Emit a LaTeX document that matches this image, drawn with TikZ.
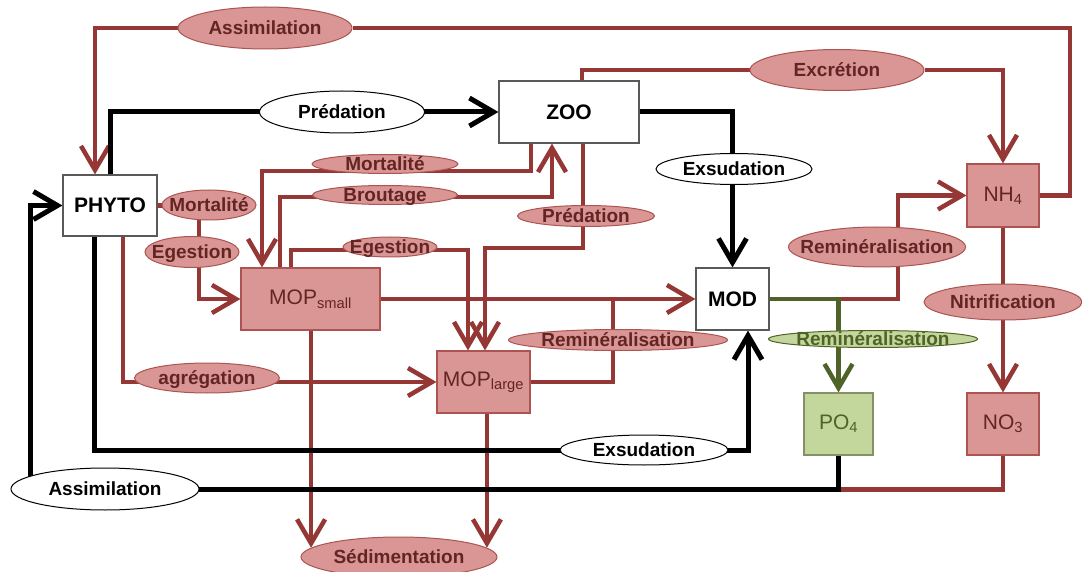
\documentclass[tikz,border=0pt]{standalone}
\usepackage{fontspec}
\setmainfont{Liberation Sans}
\usetikzlibrary{shapes.geometric,arrows.meta,backgrounds}

\definecolor{rouge}{RGB}{149,55,53}
\definecolor{rose}{RGB}{217,150,148}
\definecolor{bordrose}{RGB}{172,84,82}
\definecolor{texterouge}{RGB}{99,37,35}
\definecolor{vert}{RGB}{79,98,40}
\definecolor{vertclair}{RGB}{195,214,155}

\newcommand{\ctext}[1]{\makebox[0pt]{\raisebox{-.36em}[0pt][0pt]{#1}}}

\tikzset{
  boite/.style={rectangle, draw=black!65, line width=1.2pt, fill=white, inner sep=0pt,
    font=\bfseries\fontsize{21}{21}\selectfont},
  boiterose/.style={boite, draw=bordrose, fill=rose, text=texterouge,
    font=\fontsize{21}{21}\selectfont},
  boiteverte/.style={boite, draw=vert!70, fill=vertclair, text=vert,
    font=\fontsize{21}{21}\selectfont},
  etiq/.style={ellipse, inner sep=0pt, line width=1pt, font=\bfseries\fontsize{19}{19}\selectfont},
  etiqblanc/.style={etiq, draw=black, fill=white},
  etiqrose/.style={etiq, draw=bordrose, fill=rose, text=texterouge},
  etiqvert/.style={etiq, draw=vert, fill=vertclair, text=vert},
  fluxrouge/.style={draw=rouge, line width=4.5pt},
  fluxnoir/.style={draw=black, line width=5pt},
  fluxvert/.style={draw=vert, line width=4.5pt}
}

\begin{document}
\begin{tikzpicture}[x=1pt,y=-1pt,>={Straight Barb[length=24pt,width=28pt]}]

    \useasboundingbox (0,0) rectangle (1082,572);

    % Compartiments
    \node[boite, minimum width=94, minimum height=61] (phyto) at (110,205.5) {PHYTO};
    \node[boite, minimum width=140, minimum height=62] (zoo) at (569,112) {ZOO};
    \node[boite, minimum width=73, minimum height=62] (mod) at (732.5,299) {MOD};
    \node[boiterose, minimum width=72, minimum height=63] (nh4) at (1003,195.5) {NH\textsubscript{4}};
    \node[boiterose, minimum width=139, minimum height=62] (mopsmall) at (310.5,299) {MOP\textsubscript{small}};
    \node[boiterose, minimum width=93, minimum height=62] (moplarge) at (483.5,382) {MOP\textsubscript{large}};
    \node[boiteverte, minimum width=69, minimum height=62] (po4) at (838.5,424) {PO\textsubscript{4}};
    \node[boiterose, minimum width=72, minimum height=62] (no3) at (1003,424) {NO\textsubscript{3}};

    % Processus
    \node[etiqrose, minimum width=174, minimum height=42] (assimT) at (265,28) {\ctext{Assimilation}};
    \node[etiqblanc, minimum width=165, minimum height=42] (predW) at (342,112) {\ctext{Prédation}};
    \node[etiqrose, minimum width=174, minimum height=41] (excr) at (837,70) {\ctext{Excrétion}};
    \node[etiqblanc, minimum width=156, minimum height=31] (exsH) at (734,169) {\ctext{Exsudation}};
    \node[etiqrose, minimum width=146, minimum height=19] (mortZ) at (385,164) {\ctext{Mortalité}};
    \node[etiqrose, minimum width=145, minimum height=19] (brout) at (385,195) {\ctext{Broutage}};
    \node[etiqrose, minimum width=137, minimum height=21] (predR) at (586,216) {\ctext{Prédation}};
    \node[etiqrose, minimum width=94, minimum height=30] (mortP) at (209,205) {\ctext{Mortalité}};
    \node[etiqrose, minimum width=94, minimum height=31] (egesP) at (192,252) {\ctext{Egestion}};
    \node[etiqrose, minimum width=94, minimum height=20] (egesZ) at (390,247) {\ctext{Egestion}};
    \node[etiqrose, minimum width=219, minimum height=21] (remiL) at (618,340) {\ctext{Reminéralisation}};
    \node[etiqrose, minimum width=177, minimum height=40] (remiN) at (877,247) {\ctext{Reminéralisation}};
    \node[etiqrose, minimum width=158, minimum height=36] (nitri) at (1003,302) {\ctext{Nitrification}};
    \node[etiqvert, minimum width=209, minimum height=17] (remiP) at (873,339) {\ctext{Reminéralisation}};
    \node[etiqrose, minimum width=145, minimum height=30] (agreg) at (207,378) {\ctext{agrégation}};
    \node[etiqblanc, minimum width=168, minimum height=30] (exsB) at (644,450) {\ctext{Exsudation}};
    \node[etiqblanc, minimum width=188, minimum height=42] (assimB) at (105,489) {\ctext{Assimilation}};
    \node[etiqrose, minimum width=196, minimum height=40] (sedim) at (399,557) {\ctext{Sédimentation}};

    \begin{scope}[on background layer]
    % Flux rouges
    \draw[fluxrouge] (nh4.east) -| (1070,28) -- (assimT);
    \draw[fluxrouge,->] (assimT) -| ([xshift=-15]phyto.north);
    \draw[fluxrouge] ([xshift=13]zoo.north) |- (excr);
    \draw[fluxrouge,->] (excr) -| (nh4.north);
    \draw[fluxrouge,->] ([xshift=-38]zoo.south) |- (262,171) -- ([xshift=-48.5]mopsmall.north);
    \draw[fluxrouge,->] ([xshift=-30.5]mopsmall.north) |- (552,197) -- ([xshift=-17]zoo.south);
    \draw[fluxrouge,->] ([xshift=14]zoo.south) |- (485,248) -- ([xshift=1.5]moplarge.north);
    \draw[fluxrouge,->] ([xshift=-19.5]mopsmall.north) |- (468,250) -- ([xshift=-15.5]moplarge.north);
    \draw[fluxrouge,->] (phyto.east) -- (199,205.5) |- (mopsmall.west);
    \draw[fluxrouge,->] ([xshift=13]phyto.south) |- (moplarge.west);
    \draw[fluxrouge,->] (mopsmall.east) -- (mod.west);
    \draw[fluxrouge] (moplarge.east) -| (613,299);
    \draw[fluxrouge,->] (mopsmall.south -| sedim.174) -- (sedim.174);
    \draw[fluxrouge,->] (moplarge.south -| sedim.6) -- (sedim.6);
    \draw[fluxrouge,->] (mod.east) -| (898,250) |- (nh4.west);
    \draw[fluxrouge,->] (nh4.south) -- (no3.north);
    \draw[fluxrouge] (no3.south) |- ([yshift=-34]po4.south);

    % Flux vert
    \draw[fluxvert,->] (mod.east) -| (po4.north);

    % Flux noirs
    \draw[fluxnoir,->] (phyto.north) |- (zoo.west);
    \draw[fluxnoir,->] (zoo.east) -| (mod.north);
    \draw[fluxnoir,->] ([xshift=-16]phyto.south) |- (748,450) -- ([xshift=15.5]mod.south);
    \draw[fluxnoir,->] (po4.south) |- (30,489) |- (phyto.west);
    \end{scope}

\end{tikzpicture}
\end{document}
